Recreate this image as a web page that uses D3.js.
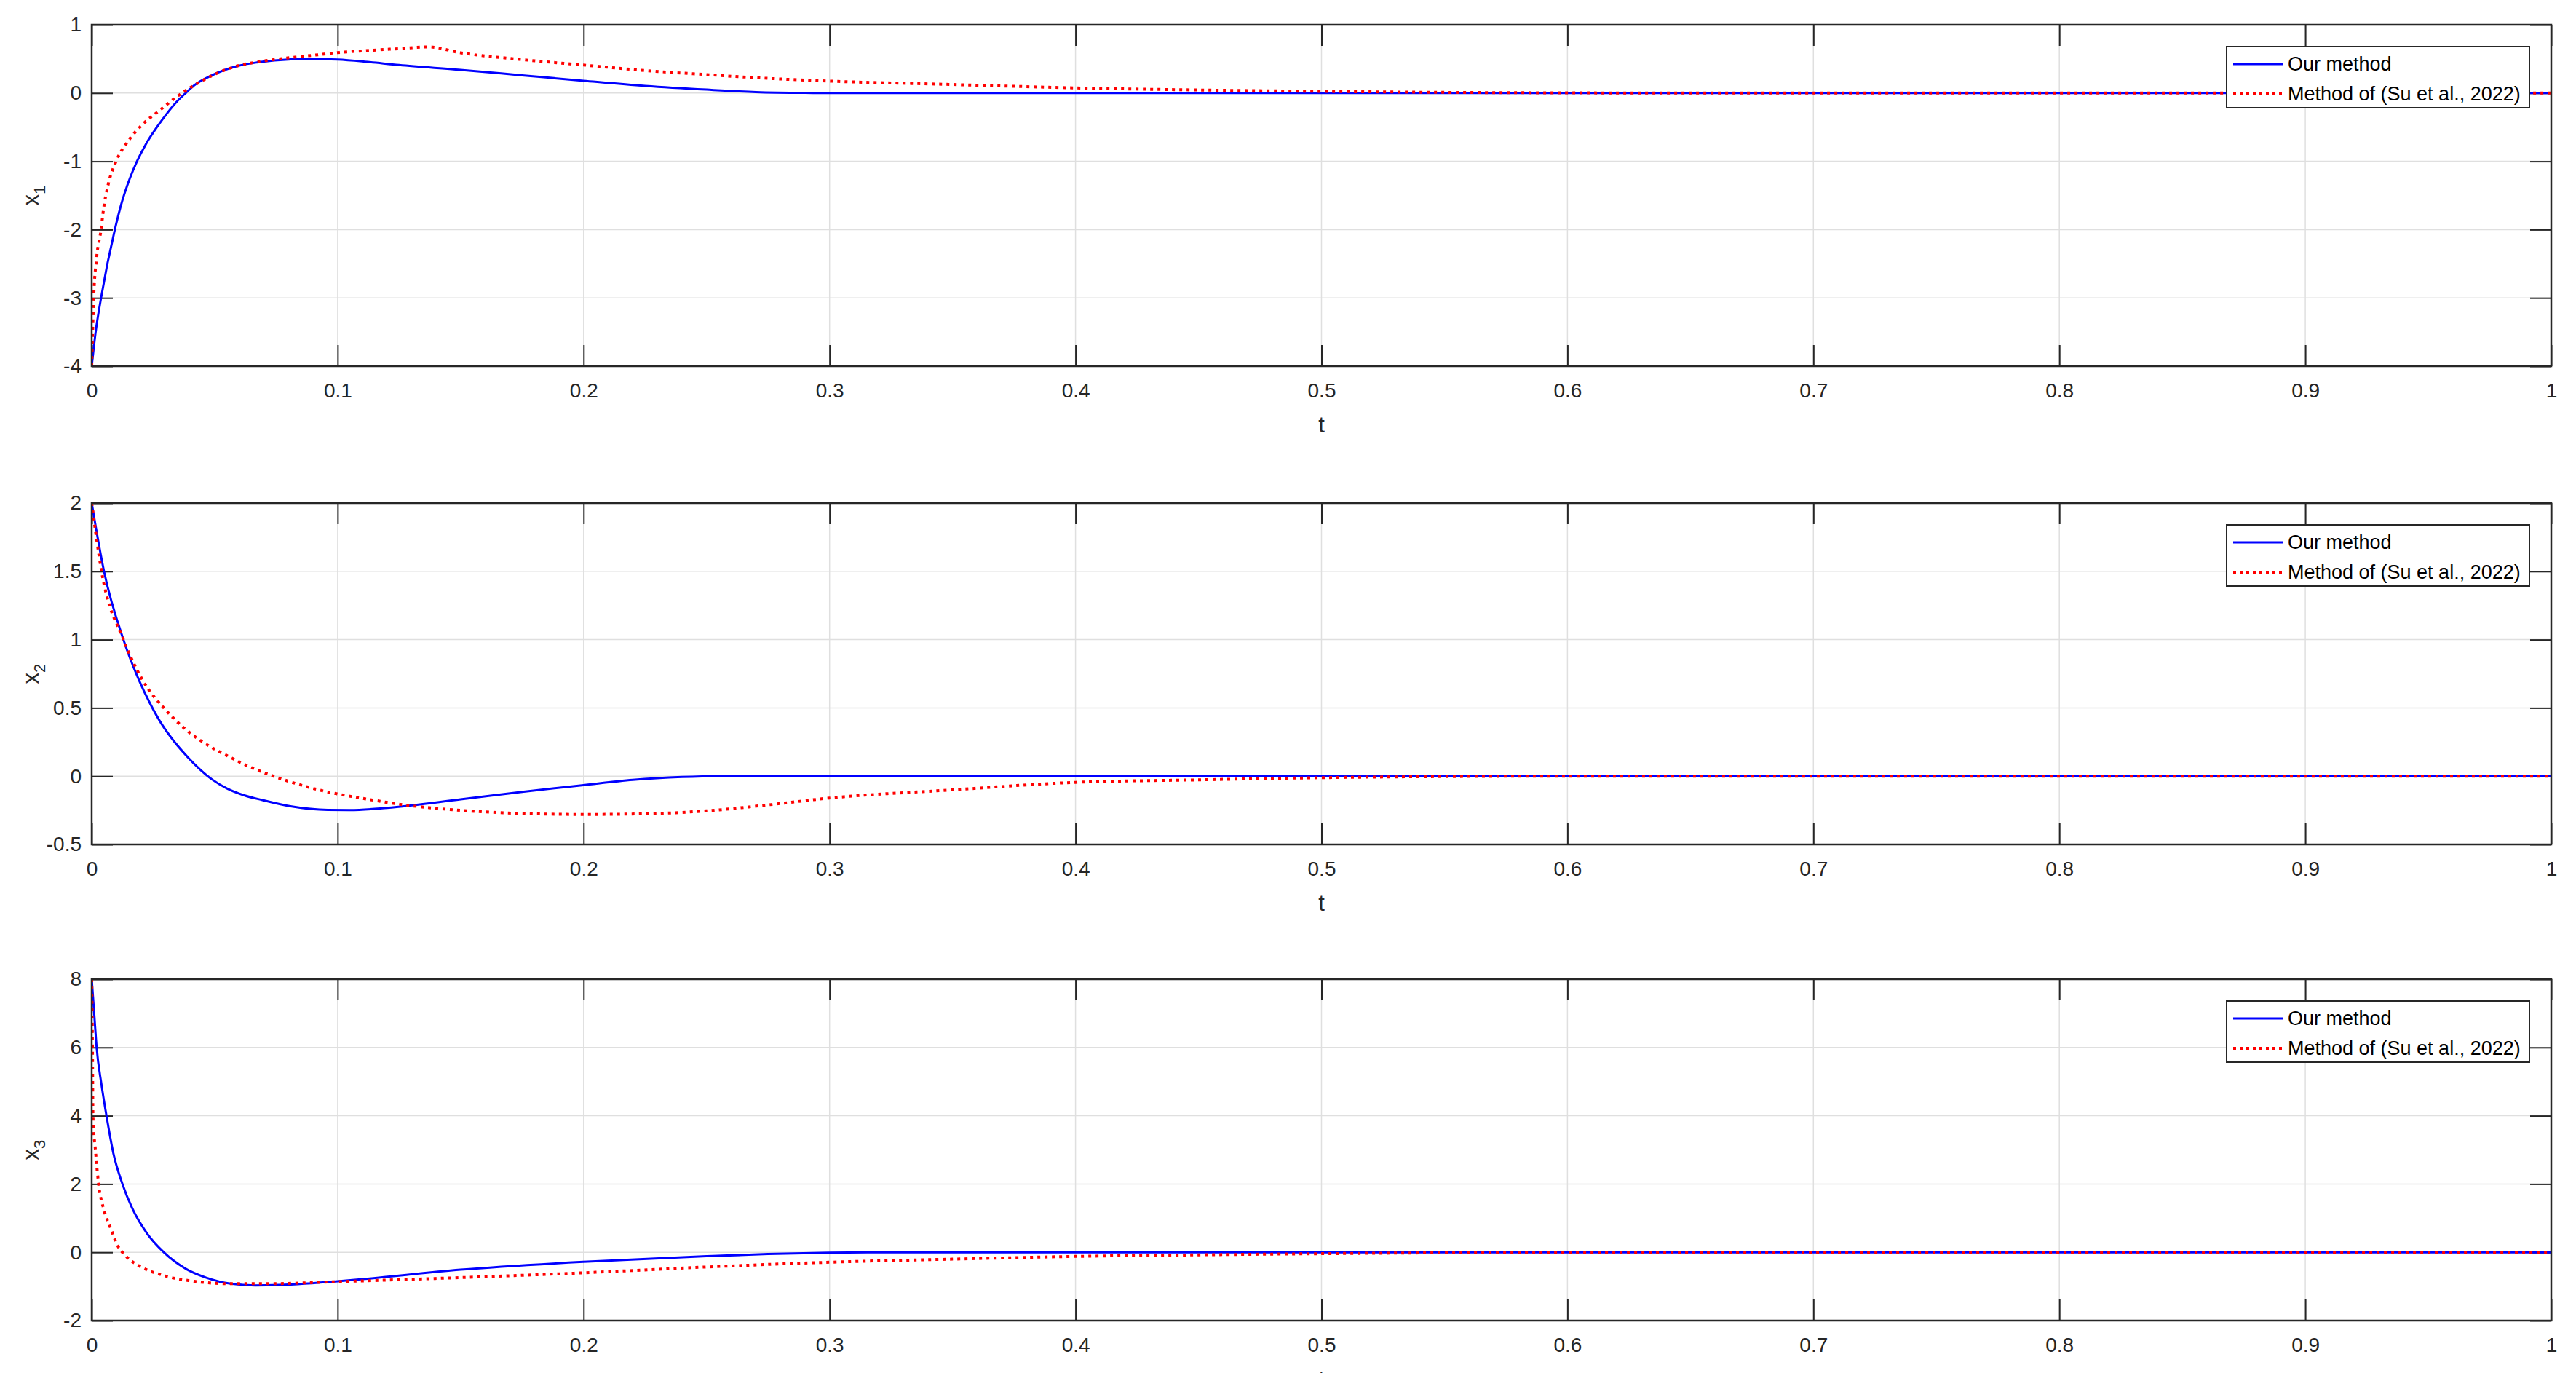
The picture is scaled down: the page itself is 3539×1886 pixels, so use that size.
<!DOCTYPE html>
<html>
<head>
<meta charset="utf-8">
<script src="https://cdn.jsdelivr.net/npm/d3@7"></script>
<style>
body { margin: 0; background: #fff; }
svg { display: block; font-family: "Liberation Sans", Arial, Helvetica, sans-serif; }
</style>
</head>
<body>
<div id="container"></div>
<script>
// tick values
const tTicks = [0, 0.1, 0.2, 0.3, 0.4, 0.5, 0.6, 0.7, 0.8, 0.9, 1]
const x1Ticks = [-4, -3, -2, -1, 0, 1]
const x2Ticks = [-0.5, 0, 0.5, 1, 1.5, 2]
const x3Ticks = [-2, 0, 2, 4, 6, 8]
const legendLabels = ["Our method", "Method of (Su et al., 2022)"]

// x1
const oursT1 = [0, 0.0016, 0.0038, 0.0094, 0.0124, 0.0155, 0.0184, 0.022, 0.0265, 0.031, 0.0345, 0.0382, 0.0417, 0.0486, 0.0595, 0.0675, 0.081, 0.091, 0.1, 0.111, 0.125, 0.15, 0.175, 0.2, 0.225, 0.25, 0.27, 0.29, 0.3, 1]
const oursX1 = [-4, -3.5, -3, -2, -1.58, -1.25, -1, -0.75, -0.5, -0.28, -0.13, 0, 0.114, 0.256, 0.398, 0.45, 0.494, 0.5, 0.49, 0.46, 0.41, 0.34, 0.26, 0.18, 0.105, 0.05, 0.015, 0.002, 0, 0]
const suT1 = [0, 0.0008, 0.002, 0.0038, 0.0048, 0.0067, 0.0099, 0.0149, 0.0208, 0.0268, 0.0367, 0.0417, 0.0486, 0.0595, 0.0675, 0.081, 0.091, 0.1, 0.111, 0.125, 0.137, 0.15, 0.175, 0.2, 0.225, 0.25, 0.275, 0.3, 0.35, 0.4, 0.45, 0.5, 0.55, 0.6, 0.65, 1]
const suX1 = [-4, -3, -2.41, -2, -1.7, -1.34, -1, -0.7, -0.455, -0.277, 0, 0.114, 0.25, 0.4, 0.455, 0.52, 0.557, 0.593, 0.62, 0.65, 0.675, 0.59, 0.49, 0.41, 0.33, 0.27, 0.215, 0.175, 0.125, 0.075, 0.045, 0.025, 0.01, 0.003, 0, 0]

// x2
const oursT2 = [0, 0.005, 0.0129, 0.0193, 0.0238, 0.0285, 0.0337, 0.039, 0.044, 0.049, 0.055, 0.062, 0.0694, 0.0813, 0.096, 0.105, 0.12, 0.15, 0.175, 0.2, 0.22, 0.24, 0.255, 1]
const oursX2 = [2, 1.5, 1.0, 0.7, 0.53, 0.38, 0.25, 0.14, 0.05, -0.025, -0.09, -0.14, -0.175, -0.222, -0.247, -0.248, -0.232, -0.17, -0.115, -0.065, -0.027, -0.006, 0, 0]
const suT2 = [0, 0.004, 0.0129, 0.0208, 0.0298, 0.0377, 0.046, 0.0556, 0.064, 0.0724, 0.0823, 0.0923, 0.1, 0.111, 0.128, 0.15, 0.175, 0.2, 0.225, 0.25, 0.275, 0.3, 0.35, 0.4, 0.45, 0.5, 0.55, 0.6, 1]
const suX2 = [2, 1.5, 1.0, 0.7, 0.49, 0.35, 0.24, 0.145, 0.07, 0.01, -0.05, -0.1, -0.13, -0.165, -0.212, -0.25, -0.273, -0.28, -0.275, -0.254, -0.21, -0.16, -0.1, -0.045, -0.027, -0.011, -0.003, 0, 0]

// x3
const oursT3 = [0, 0.001, 0.002, 0.004, 0.006, 0.0088, 0.0125, 0.0164, 0.0225, 0.0293, 0.0377, 0.0466, 0.0565, 0.0665, 0.0764, 0.1, 0.111, 0.15, 0.2, 0.25, 0.275, 0.3, 0.32, 1]
const oursX3 = [8, 7, 6, 4.9, 4, 2.9, 2, 1.3, 0.55, 0, -0.46, -0.744, -0.92, -0.97, -0.957, -0.85, -0.78, -0.51, -0.28, -0.115, -0.05, -0.01, 0, 0]
const suT3 = [0, 0.0003, 0.0005, 0.0015, 0.0028, 0.005, 0.0079, 0.0105, 0.0125, 0.0155, 0.0188, 0.0288, 0.0417, 0.0565, 0.0714, 0.1, 0.15, 0.2, 0.25, 0.3, 0.35, 0.4, 0.45, 0.5, 0.55, 0.6, 0.65, 1]
const suX3 = [8, 6, 4, 3, 2, 1.24, 0.67, 0.2, 0, -0.22, -0.38, -0.67, -0.85, -0.92, -0.92, -0.86, -0.74, -0.6, -0.43, -0.29, -0.2, -0.12, -0.075, -0.04, -0.015, -0.003, 0, 0]


const panels = [
    {sub: "1", ticks: x1Ticks, ours: d3.zip(oursT1, oursX1), su: d3.zip(suT1, suX1)},
    {sub: "2", ticks: x2Ticks, ours: d3.zip(oursT2, oursX2), su: d3.zip(suT2, suX2)},
    {sub: "3", ticks: x3Ticks, ours: d3.zip(oursT3, oursX3), su: d3.zip(suT3, suX3)}
]

let width = 3539
let height = 1886
let left = 126
let plotW = 3379
let plotH = 469
let tops = [34, 691, 1345]
let axisColor = "#262626"
let gridColor = "#dfdfdf"
let tickLen = 29

let svg = d3.select("#container")
    .append("svg")
    .attr("width", width)
    .attr("height", height)
    .attr("viewBox", [0, 0, width, height])

svg.append("rect").attr("width", width).attr("height", height).attr("fill", "#fff")

let x = d3.scaleLinear().domain([0, 1]).range([0, plotW])

function styleAxis(g) {
    g.attr("font-size", 28)
        .attr("font-family", null)
        .attr("color", axisColor)
    g.select(".domain").remove()
    g.selectAll(".tick line").attr("stroke-width", 2)
}

panels.forEach((p, i) => {
    let y = d3.scaleLinear()
        .domain(d3.extent(p.ticks))
        .range([plotH, 0])

    let g = svg.append("g")
        .attr("transform", `translate(${left},${tops[i]})`)

    g.append("clipPath").attr("id", "clip" + i)
        .append("rect").attr("width", plotW).attr("height", plotH)

    // grid
    g.append("g")
        .selectAll("line")
        .data(tTicks)
        .join("line")
            .attr("x1", d => x(d)).attr("x2", d => x(d))
            .attr("y1", 0).attr("y2", plotH)
            .attr("stroke", gridColor).attr("stroke-width", 1.5)
    g.append("g")
        .selectAll("line")
        .data(p.ticks)
        .join("line")
            .attr("x1", 0).attr("x2", plotW)
            .attr("y1", d => y(d)).attr("y2", d => y(d))
            .attr("stroke", gridColor).attr("stroke-width", 1.5)

    // axes, ticks pointing in
    g.append("g")
        .attr("transform", `translate(0,${plotH})`)
        .call(d3.axisBottom(x).tickValues(tTicks).tickFormat(d => String(d))
            .tickSizeInner(-tickLen).tickSizeOuter(0).tickPadding(23))
        .call(styleAxis)
    g.append("g")
        .call(d3.axisTop(x).tickValues(tTicks).tickFormat("")
            .tickSizeInner(-tickLen).tickSizeOuter(0))
        .call(styleAxis)
    g.append("g")
        .call(d3.axisLeft(y).tickValues(p.ticks).tickFormat(d => String(d))
            .tickSizeInner(-tickLen).tickSizeOuter(0).tickPadding(14))
        .call(styleAxis)
    g.append("g")
        .attr("transform", `translate(${plotW},0)`)
        .call(d3.axisRight(y).tickValues(p.ticks).tickFormat("")
            .tickSizeInner(-tickLen).tickSizeOuter(0))
        .call(styleAxis)

    let line = d3.line()
        .x(d => x(d[0]))
        .y(d => y(d[1]))
        .curve(d3.curveMonotoneX)

    let lines = g.append("g").attr("clip-path", `url(#clip${i})`)
    lines.append("path")
        .attr("d", line(p.ours))
        .attr("fill", "none")
        .attr("stroke", "#0000ff")
        .attr("stroke-width", 3)
    lines.append("path")
        .attr("d", line(p.su))
        .attr("fill", "none")
        .attr("stroke", "#ff0000")
        .attr("stroke-width", 4)
        .attr("stroke-dasharray", "4,6")

    g.append("rect")
        .attr("width", plotW).attr("height", plotH)
        .attr("fill", "none")
        .attr("stroke", axisColor)
        .attr("stroke-width", 2.5)

    // axis labels (the last "t" sits at the bottom edge, as in the original)
    g.append("text")
        .attr("x", plotW / 2)
        .attr("y", plotH + 91)
        .attr("text-anchor", "middle")
        .attr("font-size", 31)
        .attr("fill", axisColor)
        .text("t")

    let yl = g.append("text")
        .attr("transform", `translate(${53 - left},${plotH / 2}) rotate(-90)`)
        .attr("text-anchor", "middle")
        .attr("font-size", 31)
        .attr("fill", axisColor)
    yl.append("tspan").text("x")
    yl.append("tspan").attr("font-size", 22).attr("dy", 9).text(p.sub)

    // legend
    let lg = g.append("g").attr("transform", `translate(${3059 - left},30)`)
    lg.append("rect")
        .attr("width", 416).attr("height", 84)
        .attr("fill", "#fff")
        .attr("stroke", axisColor)
        .attr("stroke-width", 2)
    legendLabels.forEach((lab, j) => {
        let cy = 24 + j * 41
        lg.append("line")
            .attr("x1", 9).attr("x2", 78)
            .attr("y1", cy).attr("y2", cy)
            .attr("stroke", j == 0 ? "#0000ff" : "#ff0000")
            .attr("stroke-width", j == 0 ? 3 : 4)
            .attr("stroke-dasharray", j == 0 ? null : "4,5")
        lg.append("text")
            .attr("x", 84).attr("y", cy)
            .attr("dy", "0.35em")
            .attr("font-size", 27)
            .attr("fill", "#000")
            .text(lab)
    })
})
</script>
</body>
</html>
